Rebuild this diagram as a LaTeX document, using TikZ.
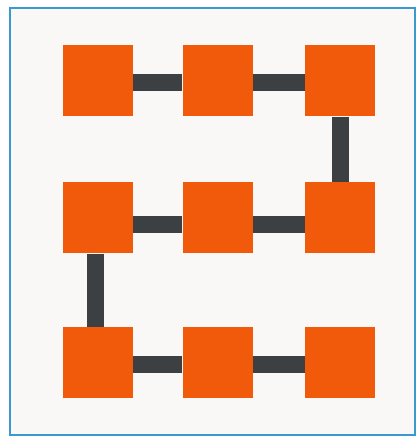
\documentclass[tikz,border=0pt]{standalone}
\definecolor{bgc}{HTML}{F9F8F6}
\definecolor{frame}{HTML}{3A9AD0}
\definecolor{orng}{HTML}{F05A0A}
\definecolor{barc}{HTML}{3D4043}
\begin{document}
\begin{tikzpicture}[x=1pt,y=1pt,
  sq/.style={fill=orng,draw=none,minimum width=70pt,minimum height=71pt,inner sep=0pt},
  bar/.style={draw=barc,line width=17pt}]
\useasboundingbox (0,0) rectangle (416,439);
\fill[white] (0,0) rectangle (416,439);
\fill[bgc] (10,4) rectangle (415,431);
\draw[frame,line width=1.5pt] (10,4) rectangle (415,431);
% rows: y centres 81,218,363 (image) -> 358,221,76
\node[sq] (a1) at (98,358) {};
\node[sq] (a2) at (217.5,358) {};
\node[sq] (a3) at (340,358) {};
\node[sq] (b1) at (98,221) {};
\node[sq] (b2) at (217.5,221) {};
\node[sq] (b3) at (340,221) {};
\node[sq] (c1) at (98,76) {};
\node[sq] (c2) at (217.5,76) {};
\node[sq] (c3) at (340,76) {};
\draw[bar] ([yshift=-1.5pt]a1.east) -- ([yshift=-1.5pt]a2.west);
\draw[bar] ([yshift=-1.5pt]a2.east) -- ([yshift=-1.5pt]a3.west);
\draw[bar] (a3.south) -- (b3.north);
\draw[bar] ([yshift=-7pt]b1.east) -- ([yshift=-7pt]b2.west);
\draw[bar] ([yshift=-7pt]b2.east) -- ([yshift=-7pt]b3.west);
\draw[bar] ([xshift=-2.5pt]b1.south) -- ([xshift=-2.5pt]c1.north);
\draw[bar] ([yshift=-2pt]c1.east) -- ([yshift=-2pt]c2.west);
\draw[bar] ([yshift=-2pt]c2.east) -- ([yshift=-2pt]c3.west);
\end{tikzpicture}
\end{document}
